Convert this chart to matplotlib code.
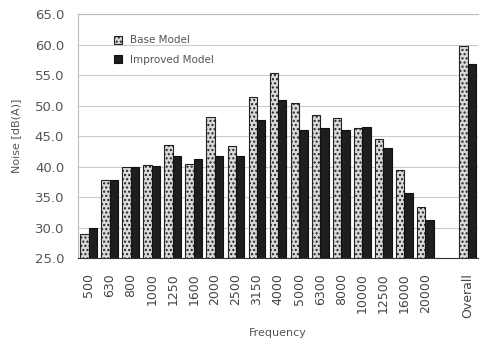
import matplotlib.pyplot as plt
import numpy as np

# 数据
freqs = ['500', '630', '800', '1000', '1250', '1600', '2000', '2500', '3150', '4000',
         '5000', '6300', '8000', '10000', '12500', '16000', '20000', '', 'Overall']
base_model = [28.9, 37.8, 39.9, 40.3, 43.5, 40.4, 48.2, 43.4, 51.4, 55.4,
              50.4, 48.4, 47.9, 46.3, 44.6, 39.4, 33.4, np.nan, 59.8]
improved_model = [29.9, 37.8, 39.9, 40.1, 41.8, 41.2, 41.8, 41.8, 47.6, 50.9,
                  46.0, 46.4, 46.0, 46.5, 43.0, 35.7, 31.2, np.nan, 56.8]
yticks = np.arange(25, 66, 5)

fig = plt.figure(figsize=(4.79, 3.45), dpi=100)
ax = fig.add_axes([0.163, 0.252, 0.835, 0.707])

x = np.arange(len(freqs))
w = 0.4
ax.bar(x - w/2, base_model, w, color='#d9d9d9', edgecolor='#222222',
       linewidth=0.8, hatch='....', label='Base Model', zorder=3)
ax.bar(x + w/2, improved_model, w, color='#1e1e1e', edgecolor='#111111',
       linewidth=0.8, label='Improved Model', zorder=3)

ax.set_ylim(25, 65)
ax.set_xlim(-0.5, len(freqs) - 0.5)
ax.set_yticks(yticks)
ax.set_yticklabels([f'{v:.1f}' for v in yticks], fontsize=9.5, color='#555555')
ax.set_xticks(x)
ax.set_xticklabels(freqs, rotation=90, fontsize=9, color='#444444')
ax.tick_params(axis='y', length=0, pad=10)
ax.tick_params(axis='x', length=0, pad=11)
ax.grid(axis='y', color='#cccccc', linewidth=0.8, zorder=0)

for s in ['left', 'top']:
    ax.spines[s].set_color('#bbbbbb')
ax.spines['right'].set_visible(False)
ax.spines['bottom'].set_color('#333333')

ax.set_ylabel('Noise [dB(A)]', fontsize=8, color='#555555', labelpad=10)
ax.set_xlabel('Frequency', fontsize=8, color='#555555', labelpad=7)

leg = ax.legend(loc='upper left', bbox_to_anchor=(0.06, 0.96), fontsize=7.5,
                frameon=False, handlelength=0.8, handleheight=0.8,
                labelcolor='#555555', borderpad=0.6, labelspacing=0.9)

plt.savefig('out.png', dpi=100)
